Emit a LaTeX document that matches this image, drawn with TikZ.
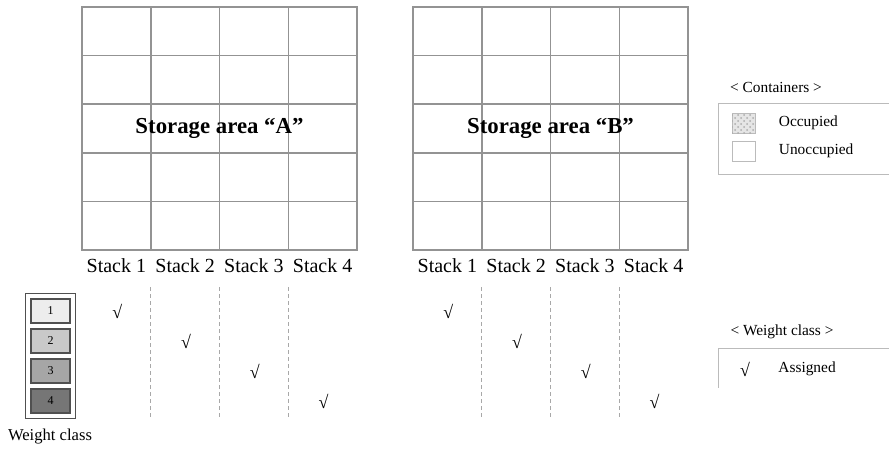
\documentclass[tikz,border=0pt]{standalone}
\usepackage{fontspec}
\setmainfont{Liberation Serif}
\usepackage{xcolor}
\usetikzlibrary{positioning,fit,patterns}
\definecolor{gridline}{HTML}{939393}
\definecolor{sepline}{HTML}{A8A8A8}
\definecolor{legline}{HTML}{BBBBBB}
\definecolor{wborder}{HTML}{505050}
\definecolor{wone}{HTML}{EDEDED}
\definecolor{wtwo}{HTML}{C9C9C9}
\definecolor{wthree}{HTML}{A6A6A6}
\definecolor{wfour}{HTML}{767676}

\begin{document}
\begin{tikzpicture}[x=0.5pt,y=-0.5pt,every node/.style={inner sep=0pt},area/.style={draw=gridline,line width=0.75pt},sep/.style={draw=sepline,line width=0.4pt,dash pattern=on 2pt off 1.5pt},lbl/.style={font=\fontsize{10}{12}\selectfont},tick/.style={font=\fontsize{9}{10}\selectfont},legtxt/.style={font=\fontsize{7.7}{9}\selectfont},wcls/.style={draw=wborder,line width=0.6pt,minimum width=19.5pt,minimum height=12pt,font=\fontsize{6}{7}\selectfont},swatch/.style={draw=legline,line width=0.5pt,minimum width=11.5pt,minimum height=10pt}]
\useasboundingbox (0,0) rectangle (889,451);
\foreach \ox/\nm in {82/A,413/B}{
  \draw[area] (\ox,7) rectangle ++(275,243);
  \foreach \i in {1,2,3} \draw[area] (\ox+\i*68.75,7) -- ++(0,243);
  \foreach \j in {1,...,4} \draw[area] (\ox,7+\j*48.6) -- ++(275,0);
  \node[font=\bfseries\fontsize{11.4}{13}\selectfont] (area\nm) at (\ox+137.5,128) {Storage area “\nm”};
  \foreach \i in {1,...,4}{
    \node[lbl] (stack\nm\i) at (\ox+\i*68.75-34.4,266) {Stack \i};
    \node[tick] (tick\nm\i) at (\ox+\i*68.75-33.4,311+30.3*\i-30.3) {√};
  }
  \foreach \i in {1,2,3} \draw[sep] (\ox+\i*68.75,287) -- (\ox+\i*68.75,418);
}
\node[wcls,fill=wone] (w1) at (50.5,311) {1};
\node[wcls,fill=wtwo] (w2) at (50.5,341) {2};
\node[wcls,fill=wthree] (w3) at (50.5,371) {3};
\node[wcls,fill=wfour] (w4) at (50.5,401) {4};
\node[fit=(w1)(w4),draw=wborder,line width=0.6pt,inner sep=2.5pt] (wbox) {};
\node[font=\fontsize{8.3}{10}\selectfont] (wlabel) at (50,437) {Weight class};
\node[legtxt] (conttitle) at (776,87) {< Containers >};
\draw[legline] (889,103) -- (718,103) -- (718,174) -- (889,174);
\node[swatch,fill=gray!20,postaction={pattern=crosshatch dots,pattern color=gray!65}] (occ) at (743.5,123) {};
\node[legtxt,right=11.5pt of occ] (occtxt) {Occupied};
\node[swatch] (unocc) at (743.5,151) {};
\node[legtxt,right=11.5pt of unocc] (unocctxt) {Unoccupied};
\node[legtxt] (wtitle) at (782,332) {< Weight class >};
\draw[legline] (889,348) -- (718,348) -- (718,388);
\node[tick] (atick) at (745,369) {√};
\node[legtxt,anchor=west] (atxt) at (778,369) {Assigned};
\end{tikzpicture}
\end{document}
